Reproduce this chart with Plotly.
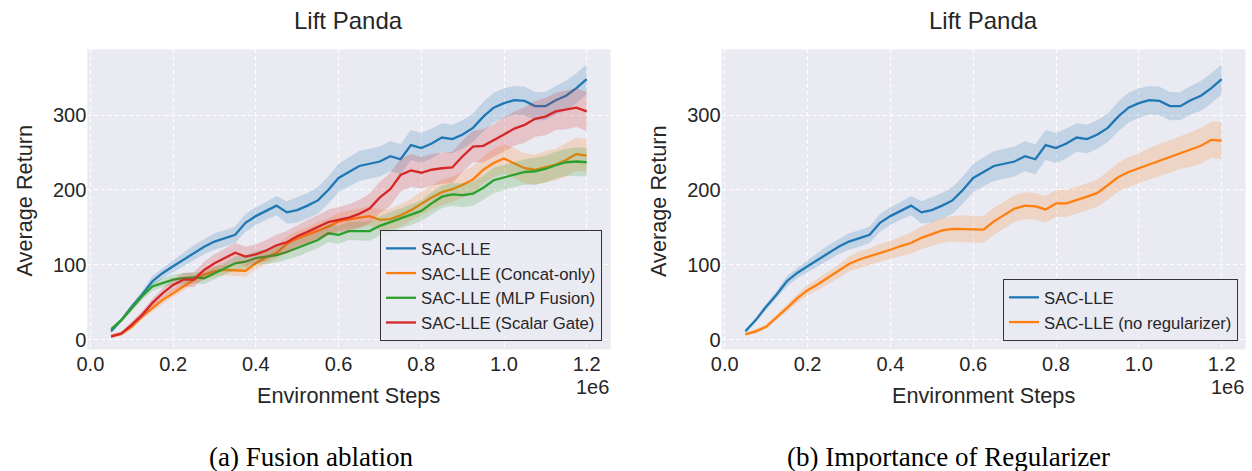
import numpy as np
import plotly.graph_objects as go

# ---------------- data (x in millions of environment steps) ----------------
steps_m = [0.050, 0.075, 0.100, 0.125, 0.150, 0.175, 0.200, 0.225, 0.250, 0.275,
           0.300, 0.325, 0.350, 0.375, 0.400, 0.425, 0.450, 0.475, 0.500, 0.525,
           0.550, 0.575, 0.600, 0.625, 0.650, 0.675, 0.700, 0.725, 0.750, 0.775,
           0.800, 0.825, 0.850, 0.875, 0.900, 0.925, 0.950, 0.975, 1.000, 1.025,
           1.050, 1.075, 1.100, 1.125, 1.150, 1.175, 1.200]

sac_lle = [11, 26, 44, 60, 78, 89, 98, 107, 116, 124,
           131, 135, 140, 156, 165, 172, 179, 170, 173, 179,
           186, 200, 216, 224, 232, 235, 238, 245, 241, 260,
           256, 262, 270, 268, 274, 283, 298, 310, 316, 320,
           319, 312, 312, 320, 326, 336, 348]
sac_lle_hw = [3, 3, 4, 5, 7, 7, 8, 9, 10, 10,
              11, 11, 11, 12, 12, 12, 13, 15, 17, 17,
              18, 18, 19, 19, 20, 20, 20, 20, 20, 20,
              20, 20, 19, 19, 19, 19, 20, 20, 20, 19,
              19, 19, 19, 19, 20, 20, 20]

concat_only = [5, 8, 17, 31, 42, 53, 62, 71, 80, 87,
               91, 93, 93, 92, 102, 110, 116, 128, 135, 140,
               146, 151, 158, 161, 163, 165, 160, 161, 166, 173,
               182, 190, 197, 201, 207, 214, 227, 236, 242, 236,
               229, 227, 231, 234, 240, 248, 246]
concat_only_hw = [2, 3, 3, 4, 5, 5, 6, 6, 6, 7,
                  7, 7, 8, 8, 8, 9, 9, 10, 10, 10,
                  11, 11, 12, 12, 13, 13, 14, 14, 15, 15,
                  16, 16, 17, 17, 17, 18, 18, 19, 19, 20,
                  20, 20, 21, 21, 22, 22, 22]

mlp_fusion = [14, 26, 42, 58, 71, 76, 80, 82, 83, 82,
              89, 95, 102, 104, 109, 111, 113, 117, 122, 127,
              133, 142, 140, 145, 145, 145, 152, 157, 162, 167,
              172, 182, 191, 194, 193, 195, 203, 213, 217, 221,
              224, 225, 228, 233, 237, 238, 237]
mlp_fusion_hw = [2, 3, 4, 5, 6, 6, 7, 7, 7, 8,
                 8, 8, 9, 9, 9, 10, 10, 10, 11, 11,
                 11, 12, 12, 12, 12, 13, 13, 13, 14, 14,
                 14, 15, 15, 15, 16, 16, 16, 17, 17, 17,
                 17, 18, 18, 18, 18, 19, 19]

scalar_gate = [4, 8, 20, 33, 49, 62, 73, 80, 80, 93,
               102, 109, 116, 111, 114, 119, 126, 130, 138, 144,
               150, 157, 160, 163, 168, 175, 190, 201, 220, 226,
               223, 227, 229, 230, 245, 258, 259, 266, 274, 282,
               287, 295, 298, 305, 307, 310, 305]
scalar_gate_hw = [2, 3, 4, 5, 6, 7, 8, 9, 10, 11,
                  12, 12, 13, 13, 13, 14, 14, 15, 15, 16,
                  16, 17, 17, 18, 19, 20, 21, 22, 22, 22,
                  21, 21, 21, 21, 21, 21, 22, 22, 23, 23,
                  24, 24, 25, 25, 26, 26, 26]

no_reg = [7, 11, 17, 29, 42, 55, 66, 74, 83, 91,
          101, 107, 111, 116, 120, 125, 129, 136, 141, 146,
          148, 148, 147, 147, 158, 166, 175, 179, 178, 174,
          182, 182, 186, 191, 196, 206, 217, 224, 229, 235,
          240, 245, 250, 254, 259, 267, 266]
no_reg_hw = [2, 3, 3, 4, 5, 6, 7, 8, 9, 9,
             10, 11, 11, 12, 12, 13, 14, 15, 16, 17,
             17, 18, 18, 18, 18, 18, 18, 18, 18, 18,
             18, 18, 18, 18, 18, 19, 19, 20, 20, 21,
             21, 22, 22, 23, 24, 24, 25]

x_tick_vals = [0.0, 0.2, 0.4, 0.6, 0.8, 1.0, 1.2]
x_tick_text = ["0.0", "0.2", "0.4", "0.6", "0.8", "1.0", "1.2"]
y_tick_vals = [0, 100, 200, 300]

panel_a = [("SAC-LLE", sac_lle, sac_lle_hw, "#1f77b4"),
           ("SAC-LLE (Concat-only)", concat_only, concat_only_hw, "#ff7f0e"),
           ("SAC-LLE (MLP Fusion)", mlp_fusion, mlp_fusion_hw, "#2ca02c"),
           ("SAC-LLE (Scalar Gate)", scalar_gate, scalar_gate_hw, "#d62728")]
panel_b = [("SAC-LLE", sac_lle, sac_lle_hw, "#1f77b4"),
           ("SAC-LLE (no regularizer)", no_reg, no_reg_hw, "#ff7f0e")]

# ---------------- figure ----------------
W, H = 1252, 471
x = np.array(steps_m) * 1e6


def rgba(hexc, a):
    h = hexc.lstrip("#")
    return "rgba(%d,%d,%d,%s)" % (int(h[0:2], 16), int(h[2:4], 16), int(h[4:6], 16), a)


fig = go.Figure()


def add_panel(series, xa, ya, legend):
    for name, mean, hw, col in series:
        m = np.array(mean, float)
        h = np.array(hw, float)
        fig.add_trace(go.Scatter(
            x=np.concatenate([x, x[::-1]]),
            y=np.concatenate([m + h, (m - h)[::-1]]),
            fill="toself", fillcolor=rgba(col, 0.2), line=dict(width=0),
            hoverinfo="skip", showlegend=False, xaxis=xa, yaxis=ya, mode="lines"))
        fig.add_trace(go.Scatter(
            x=x, y=m, mode="lines", name=name, line=dict(color=col, width=2.3),
            xaxis=xa, yaxis=ya, legend=legend))


add_panel(panel_a, "x", "y", "legend")
add_panel(panel_b, "x2", "y2", "legend2")

TXT = "#262626"
SANS = "Liberation Sans, Arial, sans-serif"
SERIF = "Liberation Serif, Times New Roman, serif"

left_dom = [87.3 / W, 610.5 / W]
right_dom = [721.6 / W, 1245.5 / W]
y_dom = [1 - 349.5 / H, 1 - 49.3 / H]

axis_common = dict(showgrid=True, gridcolor="white", gridwidth=1, griddash="4px,3px",
                   zeroline=False, showline=False, ticks="", automargin=False,
                   tickfont=dict(family=SANS, size=20, color=TXT))

legend_common = dict(xanchor="right", yanchor="bottom",
                     bgcolor="rgba(234,234,242,0.8)", bordercolor="#333333", borderwidth=1,
                     font=dict(family=SANS, size=16.7, color=TXT))

fig.update_layout(
    width=W, height=H, margin=dict(l=0, r=0, t=0, b=0),
    paper_bgcolor="white", plot_bgcolor="#EAEAF2",
    font=dict(family=SANS, color=TXT),
    xaxis=dict(domain=left_dom, range=[-0.0075e6, 1.2575e6],
               tickvals=[v * 1e6 for v in x_tick_vals], ticktext=x_tick_text,
               anchor="y", **axis_common),
    yaxis=dict(domain=y_dom, range=[-13.3, 388], tickvals=y_tick_vals,
               anchor="x", **axis_common),
    xaxis2=dict(domain=right_dom, range=[-0.0075e6, 1.2575e6],
                tickvals=[v * 1e6 for v in x_tick_vals], ticktext=x_tick_text,
                anchor="y2", **axis_common),
    yaxis2=dict(domain=y_dom, range=[-13.3, 388], tickvals=y_tick_vals,
                anchor="x2", **axis_common),
    legend=dict(x=602 / W, y=1 - 341 / H, **legend_common),
    legend2=dict(x=1238 / W, y=1 - 341 / H, **legend_common),
    showlegend=True,
)

ann = []
for cx, right_edge in [((87.3 + 610.5) / 2, 610.5), ((721.6 + 1245.5) / 2, 1245.5)]:
    ann.append(dict(text="Lift Panda", x=cx / W, y=1 - 21 / H, xref="paper", yref="paper",
                    xanchor="center", yanchor="middle", showarrow=False,
                    font=dict(family=SANS, size=24, color=TXT)))
    ann.append(dict(text="Environment Steps", x=cx / W, y=1 - 395 / H, xref="paper",
                    yref="paper", xanchor="center", yanchor="middle", showarrow=False,
                    font=dict(family=SANS, size=21.7, color=TXT)))
    ann.append(dict(text="1e6", x=right_edge / W, y=1 - 387 / H, xref="paper", yref="paper",
                    xanchor="right", yanchor="middle", showarrow=False,
                    font=dict(family=SANS, size=20, color=TXT)))
for lx in [23.5, 658]:
    ann.append(dict(text="Average Return", x=lx / W, y=1 - 201 / H, xref="paper",
                    yref="paper", xanchor="center", yanchor="middle", showarrow=False,
                    textangle=-90, font=dict(family=SANS, size=21.7, color=TXT)))
ann.append(dict(text="(a) Fusion ablation", x=311 / W, y=1 - 457 / H, xref="paper",
                yref="paper", xanchor="center", yanchor="middle", showarrow=False,
                font=dict(family=SERIF, size=27, color="black")))
ann.append(dict(text="(b) Importance of Regularizer", x=948 / W, y=1 - 457 / H,
                xref="paper", yref="paper", xanchor="center", yanchor="middle",
                showarrow=False, font=dict(family=SERIF, size=27, color="black")))
fig.update_layout(annotations=ann)

fig.write_html("out.html")
